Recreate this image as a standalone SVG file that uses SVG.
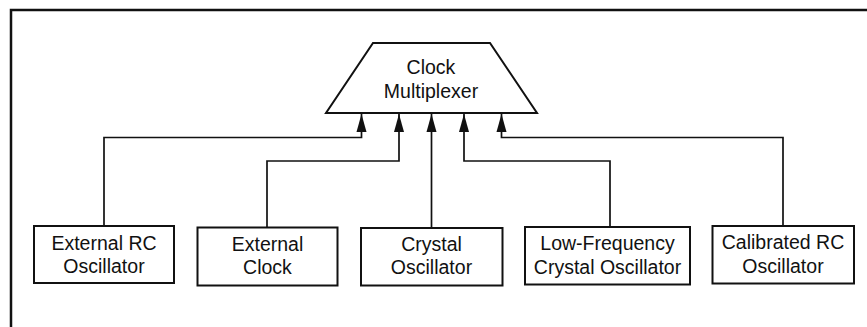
<svg xmlns="http://www.w3.org/2000/svg" width="867" height="327" viewBox="0 0 867 327">
  <defs>
    <marker id="arrow" markerUnits="userSpaceOnUse" markerWidth="19" markerHeight="11" refX="18" refY="5.5" orient="auto" viewBox="0 0 19 11">
      <path d="M0,0.5 L18,5.5 L0,10.5 Z" fill="#111"/>
    </marker>
  </defs>
  <style>
    .frame { fill: none; stroke: #111; stroke-width: 2.5; }
    .box { fill: #fff; stroke: #111; stroke-width: 2; }
    .mux { fill: #fff; stroke: #111; stroke-width: 2; stroke-linejoin: miter; }
    .wire { fill: none; stroke: #111; stroke-width: 1.7; }
    text { font-family: "Liberation Sans", Arial, sans-serif; font-size: 19.5px; fill: #111; text-anchor: middle; }
  </style>
  <rect width="867" height="327" fill="#fff"/>

  <!-- outer frame (open on the right and bottom) -->
  <path class="frame" d="M11,327 V10 H867"/>

  <!-- connectors -->
  <g id="connectors">
    <path class="wire" d="M104,226 V137.5 H361.5 V114" marker-end="url(#arrow)"/>
    <path class="wire" d="M267,227 V161 H399 V114" marker-end="url(#arrow)"/>
    <path class="wire" d="M431.5,227 V114" marker-end="url(#arrow)"/>
    <path class="wire" d="M610,226 V161 H464 V114" marker-end="url(#arrow)"/>
    <path class="wire" d="M783,226 V137.5 H501.5 V114" marker-end="url(#arrow)"/>
  </g>

  <!-- multiplexer -->
  <g id="clock-mux">
    <polygon class="mux" points="373,43 490,43 537,113 326,113"/>
    <text x="431" y="74">Clock</text>
    <text x="431" y="98">Multiplexer</text>
  </g>

  <!-- clock sources -->
  <g id="ext-rc">
    <rect class="box" x="34" y="226" width="140" height="57"/>
    <text x="104" y="249.5">External RC</text>
    <text x="104" y="273">Oscillator</text>
  </g>
  <g id="ext-clock">
    <rect class="box" x="197.5" y="227.5" width="140" height="58"/>
    <text x="267.5" y="250.5">External</text>
    <text x="267.5" y="274">Clock</text>
  </g>
  <g id="crystal">
    <rect class="box" x="361" y="228" width="141.5" height="57.5"/>
    <text x="431.5" y="250.5">Crystal</text>
    <text x="431.5" y="274">Oscillator</text>
  </g>
  <g id="lf-crystal">
    <rect class="box" x="525" y="227" width="165" height="57.5"/>
    <text x="607.5" y="250">Low-Frequency</text>
    <text x="607.5" y="273.5">Crystal Oscillator</text>
  </g>
  <g id="cal-rc">
    <rect class="box" x="712.5" y="226" width="141.5" height="57.5"/>
    <text x="783" y="249">Calibrated RC</text>
    <text x="783" y="272.5">Oscillator</text>
  </g>
</svg>
